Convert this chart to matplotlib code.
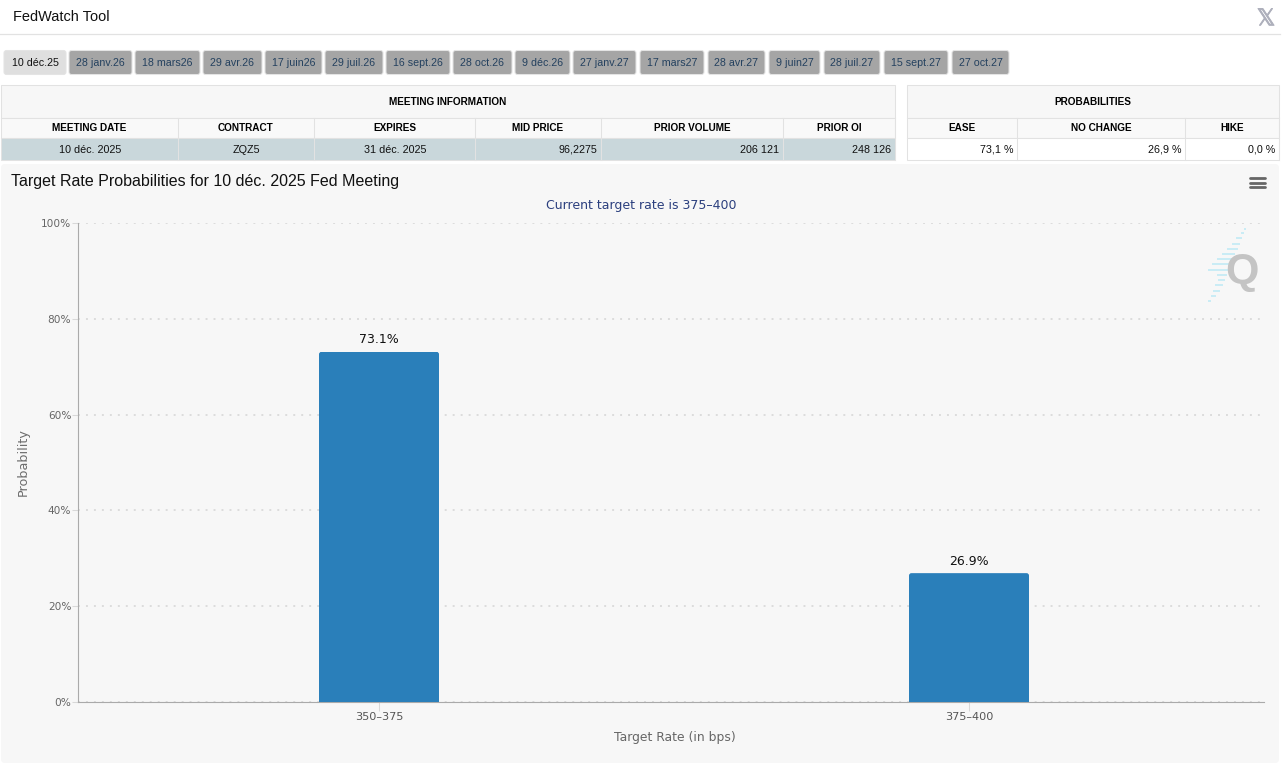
import matplotlib
matplotlib.use("Agg")
import matplotlib.pyplot as plt
import matplotlib.patheffects as pe
from matplotlib.patches import FancyBboxPatch, Rectangle
from matplotlib.transforms import IdentityTransform

W, H = 1286, 765
SANS = "Liberation Sans"
VERD = "DejaVu Sans"

# ---- data ----
categories = ["350\u2013375", "375\u2013400"]
probabilities = [73.1, 26.9]
bar_labels = ["73.1%", "26.9%"]
y_ticks = [0, 20, 40, 60, 80, 100]
y_tick_labels = ["0%", "20%", "40%", "60%", "80%", "100%"]

meeting_labels = ["10 déc.25", "28 janv.26", "18 mars26", "29 avr.26", "17 juin26", "29 juil.26",
                  "16 sept.26", "28 oct.26", "9 déc.26", "27 janv.27", "17 mars27", "28 avr.27",
                  "9 juin27", "28 juil.27", "15 sept.27", "27 oct.27"]
button_edges = [(4, 66), (69, 132), (135, 200), (203, 262), (265, 322), (325, 383),
                (386, 450), (453, 512), (515, 570), (573, 636), (640, 704), (708, 765),
                (769, 820), (824, 880), (884, 948), (952, 1009)]

info_headers = ["MEETING DATE", "CONTRACT", "EXPIRES", "MID PRICE", "PRIOR VOLUME", "PRIOR OI"]
info_values = ["10 déc. 2025", "ZQZ5", "31 déc. 2025", "96,2275", "206 121", "248 126"]
info_cols = [1, 178, 314, 475, 601, 783, 895]
prob_headers = ["EASE", "NO CHANGE", "HIKE"]
prob_values = ["73,1 %", "26,9 %", "0,0 %"]
prob_cols = [907, 1017, 1185, 1279]

fig = plt.figure(figsize=(W / 100, H / 100), dpi=100, facecolor="white")

bg = fig.add_axes([0, 0, 1, 1], zorder=0)
bg.set_xlim(0, W)
bg.set_ylim(H, 0)
bg.axis("off")


def rect(x0, y0, x1, y1, fc="none", ec="none", lw=0.75, z=1):
    bg.add_patch(Rectangle((x0, y0), x1 - x0, y1 - y0, facecolor=fc, edgecolor=ec, linewidth=lw, zorder=z))


def rrect(x0, y0, x1, y1, r, fc, ec="none", lw=0.75, z=1):
    bg.add_patch(FancyBboxPatch((x0 + r, y0 + r), x1 - x0 - 2 * r, y1 - y0 - 2 * r,
                                boxstyle=f"round,pad={r},rounding_size={r}",
                                facecolor=fc, edgecolor=ec, linewidth=lw, zorder=z))


def txt(x, y, s, px, color="#000000", ha="center", weight="normal", family=SANS, **kw):
    """y is the visual centre of a capital letter; anchored on the baseline."""
    return bg.text(x, y + 0.36 * px, s, fontsize=px * 0.72, color=color, ha=ha, va="baseline",
                   weight=weight, family=family, zorder=5, **kw)


# header bar
txt(13, 16, "FedWatch Tool", 14.5, color="#111111", ha="left")
bg.plot([0, 1280], [34, 34], color="#e2e2e2", lw=0.9, zorder=1)
xmark = txt(1266, 17, "\U0001D54F", 23, color="#aeb0bc", family="DejaVu Sans")
xmark.set_path_effects([pe.withStroke(linewidth=0.7, foreground="#aeb0bc")])

# meeting buttons
for i, (lab, (x0, x1)) in enumerate(zip(meeting_labels, button_edges)):
    active = i == 0
    rrect(x0, 50.5, x1, 74.5, 2.5, "#dfdfdf" if active else "#a5a5a5", ec="#e4e4e4")
    txt((x0 + x1) / 2, 62.3, lab, 10.6, color="#111111" if active else "#24415f")

# tables
LINE = "#e2e2e2"
for cols, headers, values, title, tint in [
    (info_cols, info_headers, info_values, "MEETING INFORMATION", "#c9d7db"),
    (prob_cols, prob_headers, prob_values, "PROBABILITIES", "#ffffff"),
]:
    left, right = cols[0], cols[-1]
    rect(left, 85, right, 118, fc="#f7f7f7", ec=LINE)
    rect(left, 118, right, 138, fc="#f9f9f9", ec=LINE)
    rect(left, 138, right, 160, fc=tint, ec=LINE)
    txt((left + right) / 2, 101.7, title, 10, weight="bold")
    for j, (h, v) in enumerate(zip(headers, values)):
        c0, c1 = cols[j], cols[j + 1]
        bg.plot([c1, c1], [118, 160], color=LINE, lw=0.75, zorder=2)
        txt((c0 + c1) / 2, 127.8, h, 10, weight="bold")
        vy = 148.6 if "," in v else 149.2
        if tint != "#ffffff" and j < 3:
            txt((c0 + c1) / 2 + 0.5, vy, v, 10.7, color="#111111")
        else:
            txt(c1 - 4, vy, v, 10.7, color="#111111", ha="right")

# chart panel
rrect(1, 164, 1279, 763, 4, "#f7f7f7")
txt(11, 180.7, "Target Rate Probabilities for 10 déc. 2025 Fed Meeting", 16, color="#111111", ha="left")
txt(641.5, 204.5, "Current target rate is 375\u2013400", 12.5, color="#2b3f7e", family=VERD)
bg.text(23.5, 462.5, "Probability", fontsize=12.7 * 0.72, color="#6d6d6d", family=VERD, rotation=90,
        ha="center", va="center", zorder=5)
txt(675, 736.3, "Target Rate (in bps)", 12.4, color="#666666", family=VERD)

# menu icon
for yy in (177.5, 182.5, 187):
    bg.plot([1250, 1265], [yy, yy], color="#666666", lw=2.0, solid_capstyle="round", zorder=3)

# watermark
wm_rows = [(229, 1244, 1246), (233, 1241, 1244), (238, 1236, 1242), (244, 1232, 1240), (249, 1227, 1238),
           (254, 1222, 1235), (259, 1217, 1233), (264, 1212, 1230), (270, 1208, 1228), (275, 1217, 1227),
           (280, 1218, 1225), (285, 1215, 1223), (291, 1213, 1220), (296, 1211, 1216), (301, 1208, 1211)]
for yy, a, b in wm_rows:
    bg.plot([a, b], [yy, yy], color="#c9ecf5", lw=1.4, solid_capstyle="butt", zorder=2)
txt(1241.5, 267.5, "Q", 43, color="#c4c4c4", weight="bold", family="Liberation Sans")

# chart axes: pixel box x 78..1264, y 223..702 (bar centres sit at 379 and 969 px)
x0, x1, ytop, ybot = 78.0, 1264.0, 223.0, 702.0
ax = fig.add_axes([x0 / W, 1 - ybot / H, (x1 - x0) / W, (ybot - ytop) / H], zorder=2)
ax.patch.set_alpha(0)
ax.set_ylim(0, 100)
ax.set_xlim((x0 - 379) / 590, (x1 - 379) / 590)

ax.set_yticks(y_ticks)
ax.set_yticklabels(y_tick_labels, family=VERD, fontsize=7.6, color="#666666")
ax.set_xticks(range(len(categories)))
ax.set_xticklabels(categories, family=VERD, fontsize=8.1, color="#555555")
ax.tick_params(axis="y", length=4.3, width=0.75, color="#d8d8d8", pad=0.5)
ax.tick_params(axis="x", length=6.7, width=0.75, color="#d8d8d8", pad=0.5)
ax.yaxis.grid(True, color="#dcdcdc", linestyle=(0, (1, 3.1)), linewidth=1.4)
ax.set_axisbelow(True)
for s in ("top", "right"):
    ax.spines[s].set_visible(False)
for s in ("left", "bottom"):
    ax.spines[s].set_color("#aaaaaa")
    ax.spines[s].set_linewidth(0.8)

bars = ax.bar(range(len(categories)), probabilities, width=120 / 590, color="#2a7fba", zorder=3)
fig.canvas.draw()
for b, lab in zip(bars, bar_labels):
    ext = b.get_window_extent()
    clip = FancyBboxPatch((ext.x0, ext.y0 - 8), ext.width, ext.height + 8,
                          boxstyle="round,pad=0,rounding_size=2.5", transform=IdentityTransform())
    b.set_clip_path(clip)
    ax.annotate(lab, (b.get_x() + b.get_width() / 2, b.get_height()), xytext=(0, 4),
                textcoords="offset points", ha="center", va="bottom",
                family=VERD, fontsize=9.0, color="#111111", zorder=4)

fig.savefig("out.png", dpi=100, facecolor="white")
